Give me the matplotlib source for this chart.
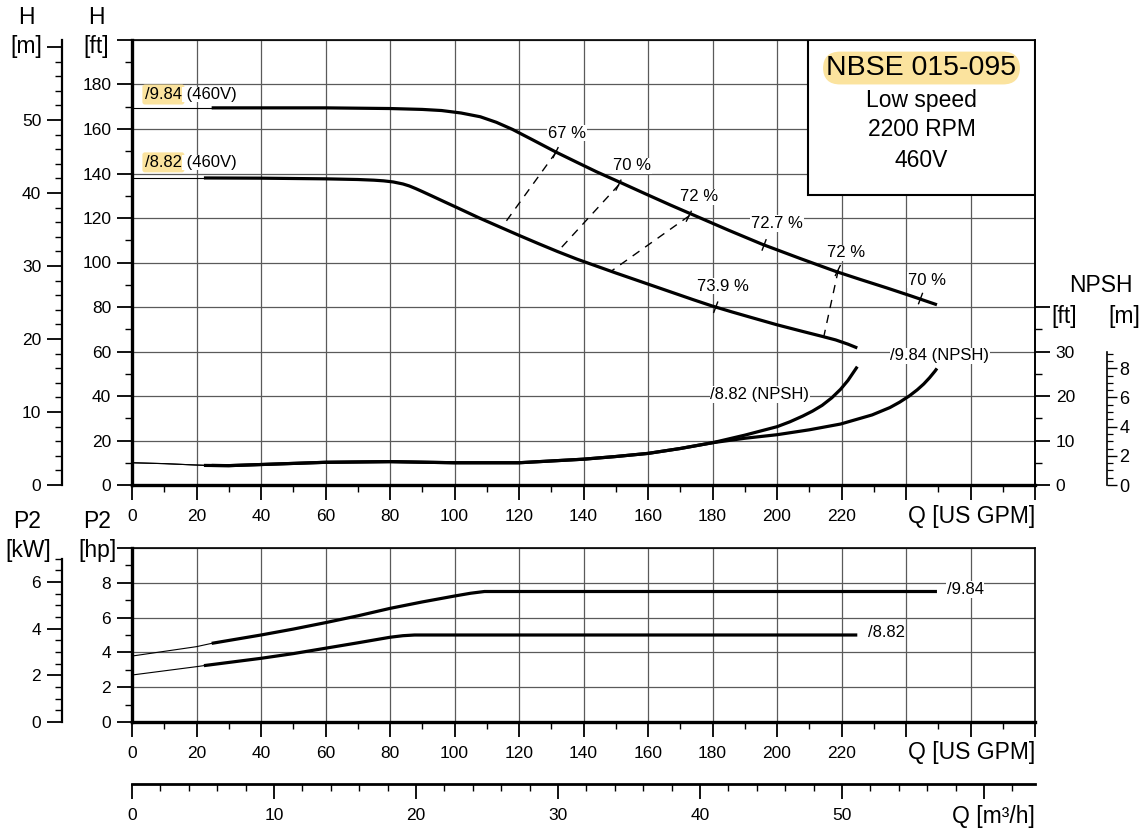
"""Charakterystyka pompy NBSE 015-095 (low speed, 2200 RPM, 460V)."""

import numpy as np
import matplotlib
matplotlib.use("Agg")
import matplotlib.pyplot as plt
from matplotlib.patches import Rectangle
from matplotlib.ticker import MultipleLocator, FuncFormatter

plt.rcParams["font.family"] = ["Liberation Sans", "DejaVu Sans"]

YELLOW = "#FBE39E"
GRID = "#5a5a5a"

# --- dane (Q w US GPM) ---
# H [ft], wirnik /9.84
Q_984 = [0, 24.7, 40, 60, 80, 90, 96, 102, 108, 113, 118, 124, 131.5, 138,
         144, 152, 159.3, 167, 174.8, 185, 195.4, 207, 218.2, 226, 234,
         241.5, 249.6]
H_984 = [169.5, 169.5, 169.5, 169.5, 169.2, 168.8, 168.3, 167.2, 165.5, 163.0,
         159.8, 155.3, 149.6, 145.0, 140.8, 135.6, 130.8, 125.8, 120.9, 114.5,
         108.2, 101.9, 96.0, 92.3, 88.6, 85.0, 81.0]
# H [ft], wirnik /8.82
Q_882 = [0, 22.3, 40, 60, 70, 75, 78, 81, 84, 86, 88, 90, 93, 97, 100, 104,
         107.7, 114, 120, 126, 132, 138, 144, 150, 156, 162, 168, 174, 180,
         186, 192, 200, 208, 214, 218.2, 222, 224.9]
H_882 = [138.0, 138.0, 137.9, 137.6, 137.3, 137.0, 136.7, 136.2, 135.3, 134.4,
         133.2, 131.9, 129.9, 127.2, 125.2, 122.5, 120.0, 116.0, 112.2, 108.5,
         104.9, 101.5, 98.4, 95.3, 92.3, 89.3, 86.3, 83.3, 80.4, 77.8, 75.3,
         72.0, 69.0, 66.8, 65.2, 63.3, 61.6]
Q_START_984 = 24.7
Q_START_882 = 22.3

# NPSH [ft]
NQ_984 = [0, 10, 19.5, 24.7, 30, 40, 60, 80, 100, 120, 130, 140, 150, 160, 170,
          180, 190, 200, 210, 219.7, 229.5, 235, 238, 241, 243.5, 245.5, 247.3,
          249, 249.6]
NPSH_984 = [5.0, 4.8, 4.5, 4.4, 4.35, 4.6, 5.1, 5.25, 5.0, 5.0, 5.4, 5.8, 6.4,
            7.1, 8.2, 9.5, 10.5, 11.3, 12.4, 13.7, 15.75, 17.4, 18.6, 20.0,
            21.4, 22.7, 24.1, 25.6, 26.2]
NQ_882 = [0, 10, 19.5, 22.3, 30, 40, 60, 80, 100, 120, 130, 140, 150, 160, 170,
          180, 190, 200, 204, 208, 211, 214, 217, 219.7, 222, 224.9]
NPSH_882 = [5.0, 4.8, 4.5, 4.4, 4.35, 4.6, 5.1, 5.25, 5.0, 5.0, 5.4, 5.8, 6.4,
            7.1, 8.2, 9.5, 11.2, 13.1, 14.2, 15.5, 16.6, 17.9, 19.6, 21.5,
            23.5, 26.6]

# P2 [hp]
PQ_984 = [0, 20, 24.7, 40, 50, 60, 70, 80, 90, 100, 105, 109.3, 249.6]
P2_984 = [3.79, 4.33, 4.52, 5.0, 5.34, 5.71, 6.1, 6.53, 6.9, 7.24, 7.4, 7.5,
          7.5]
PQ_882 = [0, 20, 22.3, 40, 50, 60, 70, 80, 84, 87.6, 224.9]
P2_882 = [2.70, 3.18, 3.24, 3.66, 3.93, 4.24, 4.55, 4.87, 4.96, 5.0, 5.0]

# linie sprawności (Q, H) - górny i dolny koniec linii przerywanej
EFF_TOP_Q = [131.5, 151.0, 172.8, 219.0]
EFF_TOP_H = [149.6, 135.0, 121.0, 96.6]
EFF_BOT_Q = [115.0, 132.0, 148.5, 214.5]
EFF_BOT_H = [116.5, 104.9, 96.0, 66.6]
EFF_TICK_Q = [196.0, 181.0, 244.5]
EFF_TICK_H = [107.9, 79.9, 83.8]
EFF_LABELS = ["67 %", "70 %", "72 %", "72.7 %", "73.9 %", "72 %", "70 %"]
EFF_LABEL_Q = [134.8, 155.0, 175.8, 200.0, 183.2, 221.3, 246.4]
EFF_LABEL_H = [158.2, 143.4, 129.5, 117.4, 89.4, 104.3, 92.1]

FT_TO_M = 0.3048
HP_TO_KW = 0.7457
GPM_TO_M3H = 0.22712

W_PX, H_PX = 1147, 834


def fx(x):
    return x / W_PX


def fy(y):
    return 1 - y / H_PX


def upto(vmax):
    return FuncFormatter(lambda v, _: f"{v:g}" if v <= vmax + 1e-9 else "")


def style_ticks(a, axis):
    a.tick_params(axis=axis, which="major", length=11, width=1.3,
                  labelsize=12.5, direction="out", pad=4)
    a.tick_params(axis=axis, which="minor", length=5, width=1.0,
                  direction="out")


def curve(a, q, v, q_start):
    q = np.asarray(q, dtype=float)
    v = np.asarray(v, dtype=float)
    thin = q <= q_start
    thick = q >= q_start
    a.plot(q[thin], v[thin], color="black", lw=0.8, zorder=3)
    a.plot(q[thick], v[thick], color="black", lw=2.3, zorder=3,
           solid_capstyle="butt", solid_joinstyle="round")


fig = plt.figure(figsize=(11.47, 8.34), dpi=100)
L, R = 132, 1035
AX_W = fx(R - L)

# ---------------- wykres H / NPSH ----------------
ax = fig.add_axes([fx(L), fy(485), AX_W, (485 - 40) / H_PX])
ax.set_xlim(0, 280)
ax.set_ylim(0, 200)
ax.xaxis.set_major_locator(MultipleLocator(20))
ax.xaxis.set_minor_locator(MultipleLocator(10))
ax.xaxis.set_major_formatter(upto(220))
ax.yaxis.set_major_locator(MultipleLocator(20))
ax.yaxis.set_minor_locator(MultipleLocator(10))
ax.yaxis.set_major_formatter(upto(180))
style_ticks(ax, "both")
ax.tick_params(axis="x", pad=6)
ax.grid(which="major", color=GRID, lw=0.9)
ax.set_axisbelow(True)
for s in ("left", "bottom"):
    ax.spines[s].set_linewidth(2.4)
for s in ("top", "right"):
    ax.spines[s].set_linewidth(1.2)

curve(ax, Q_984, H_984, Q_START_984)
curve(ax, Q_882, H_882, Q_START_882)

for q1, h1, q2, h2 in zip(EFF_TOP_Q, EFF_TOP_H, EFF_BOT_Q, EFF_BOT_H):
    ax.plot([q1, q2], [h1, h2], color="black", lw=1.0, ls=(0, (6, 5)),
            zorder=3)
    ax.plot([q1 - 0.9, q1 + 0.6], [h1 - 2.4, h1 + 2.0], color="black",
            lw=1.0, zorder=3)
for q, h in zip(EFF_TICK_Q, EFF_TICK_H):
    ax.plot([q - 0.6, q + 0.6], [h - 2.3, h + 2.3], color="black", lw=1.0,
            zorder=3)
for txt, q, h in zip(EFF_LABELS, EFF_LABEL_Q, EFF_LABEL_H):
    ax.text(q, h, txt, ha="center", va="center", fontsize=12, zorder=4,
            bbox=dict(fc="white", ec="none", pad=0.6))

t1 = ax.text(4.0, 175.5, "/9.84", fontsize=12, va="center", zorder=4,
             bbox=dict(boxstyle="round,pad=0.15", fc=YELLOW, ec="none"))
ax.annotate(" (460V)", xy=(1, 0.5), xycoords=t1, va="center", fontsize=12,
            zorder=4, bbox=dict(fc="white", ec="none", pad=0.3))
t2 = ax.text(4.0, 145.0, "/8.82", fontsize=12, va="center", zorder=4,
             bbox=dict(boxstyle="round,pad=0.15", fc=YELLOW, ec="none"))
ax.annotate(" (460V)", xy=(1, 0.5), xycoords=t2, va="center", fontsize=12,
            zorder=4, bbox=dict(fc="white", ec="none", pad=0.3))

# ramka z tytułem
ax.add_patch(Rectangle((0.7486, 0.6517), 0.2514, 0.3483,
                       transform=ax.transAxes, fc="white", ec="black",
                       lw=1.5, zorder=5))
ax.text(0.8743, 0.937, "NBSE 015-095", transform=ax.transAxes, ha="center",
        va="center", fontsize=20.5, zorder=6,
        bbox=dict(boxstyle="round,pad=0.12,rounding_size=0.6", fc=YELLOW,
                  ec="none"))
for txt, yy in zip(["Low speed", "2200 RPM", "460V"], [0.865, 0.798, 0.730]):
    ax.text(0.8743, yy, txt, transform=ax.transAxes, ha="center",
            va="center", fontsize=16.5, zorder=6)

# oś H [m] po lewej
ax_hm = ax.twinx()
ax_hm.set_ylim(0, 200 * FT_TO_M)
ax_hm.yaxis.set_ticks_position("left")
ax_hm.yaxis.set_label_position("left")
ax_hm.spines["left"].set_position(("axes", -0.0775))
ax_hm.spines["left"].set_linewidth(1.6)
for s in ("right", "top", "bottom"):
    ax_hm.spines[s].set_visible(False)
ax_hm.yaxis.set_major_locator(MultipleLocator(10))
ax_hm.yaxis.set_minor_locator(MultipleLocator(2))
ax_hm.yaxis.set_major_formatter(upto(50))
style_ticks(ax_hm, "y")

# NPSH [ft] na prawej krawędzi
ax_n = ax.twinx()
ax_n.set_ylim(0, 100)
for s in ("left", "top", "bottom"):
    ax_n.spines[s].set_visible(False)
ax_n.spines["right"].set_linewidth(1.2)
ax_n.set_yticks([0, 10, 20, 30, 40])
ax_n.set_yticks([5, 15, 25, 35], minor=True)
ax_n.yaxis.set_major_formatter(upto(30))
style_ticks(ax_n, "y")
curve(ax_n, NQ_984, NPSH_984, Q_START_984)
curve(ax_n, NQ_882, NPSH_882, Q_START_882)
ax_n.text(250.5, 29.0, "/9.84 (NPSH)", ha="center", va="center",
          fontsize=12, bbox=dict(fc="white", ec="none", pad=0.6))
ax_n.text(194.7, 20.3, "/8.82 (NPSH)", ha="center", va="center",
          fontsize=12, bbox=dict(fc="white", ec="none", pad=0.6))

# NPSH [m]
ax_nm = ax.twinx()
ax_nm.set_ylim(0, 100 * FT_TO_M)
for s in ("left", "top", "bottom"):
    ax_nm.spines[s].set_visible(False)
ax_nm.spines["right"].set_position(("axes", 1.0797))
ax_nm.spines["right"].set_bounds(0, 30 * FT_TO_M)
ax_nm.spines["right"].set_linewidth(1.2)
ax_nm.set_yticks([0, 2, 4, 6, 8])
ax_nm.set_yticks(np.arange(0.5, 9.01, 0.5), minor=True)
ax_nm.tick_params(axis="y", which="major", length=7, width=1.0,
                  labelsize=13, pad=2)
ax_nm.tick_params(axis="y", which="minor", length=4.5, width=0.9)

# ---------------- wykres P2 ----------------
ax2 = fig.add_axes([fx(L), fy(722), AX_W, (722 - 548) / H_PX])
ax2.set_xlim(0, 280)
ax2.set_ylim(0, 10)
ax2.xaxis.set_major_locator(MultipleLocator(20))
ax2.xaxis.set_minor_locator(MultipleLocator(10))
ax2.xaxis.set_major_formatter(upto(220))
ax2.yaxis.set_major_locator(MultipleLocator(2))
ax2.yaxis.set_minor_locator(MultipleLocator(1))
ax2.yaxis.set_major_formatter(upto(8))
style_ticks(ax2, "both")
ax2.tick_params(axis="x", pad=6)
ax2.grid(which="major", color=GRID, lw=0.9)
ax2.set_axisbelow(True)
for s in ("left", "bottom"):
    ax2.spines[s].set_linewidth(2.4)
for s in ("top", "right"):
    ax2.spines[s].set_linewidth(1.2)
curve(ax2, PQ_984, P2_984, Q_START_984)
curve(ax2, PQ_882, P2_882, Q_START_882)
ax2.text(252.6, 7.6, "/9.84", ha="left", va="center", fontsize=12,
         bbox=dict(fc="white", ec="none", pad=0.6))
ax2.text(228.1, 5.12, "/8.82", ha="left", va="center", fontsize=12,
         bbox=dict(fc="white", ec="none", pad=0.6))

ax2_kw = ax2.twinx()
ax2_kw.set_ylim(0, 10 * HP_TO_KW)
ax2_kw.yaxis.set_ticks_position("left")
ax2_kw.spines["left"].set_position(("axes", -0.0775))
ax2_kw.spines["left"].set_bounds(0, 7)
ax2_kw.spines["left"].set_linewidth(1.6)
for s in ("right", "top", "bottom"):
    ax2_kw.spines[s].set_visible(False)
ax2_kw.set_yticks([0, 2, 4, 6])
ax2_kw.set_yticks(np.arange(0.5, 7.01, 0.5), minor=True)
style_ticks(ax2_kw, "y")

# ---------------- oś Q [m3/h] ----------------
ax3 = fig.add_axes([fx(L), fy(784), AX_W, 0.0001])
ax3.set_xlim(0, 280 * GPM_TO_M3H)
ax3.set_yticks([])
for s in ("left", "right", "top"):
    ax3.spines[s].set_visible(False)
ax3.spines["bottom"].set_linewidth(2.0)
ax3.patch.set_visible(False)
ax3.xaxis.set_major_locator(MultipleLocator(10))
ax3.xaxis.set_minor_locator(MultipleLocator(2))
ax3.xaxis.set_major_formatter(upto(50))
style_ticks(ax3, "x")
ax3.tick_params(axis="x", pad=6)

# ---------------- opisy osi ----------------
LBL = 16.5
for x, y, txt in [(26, 17, "H"), (26, 46, "[m]"), (96, 17, "H"),
                  (96, 46, "[ft]"), (27, 522, "P2"), (28, 551, "[kW]"),
                  (97, 522, "P2"), (98, 551, "[hp]"), (1101, 286, "NPSH"),
                  (1064, 316, "[ft]"), (1124, 316, "[m]")]:
    fig.text(fx(x), fy(y), txt, ha="center", va="center", fontsize=LBL)
for y, txt in [(517, "Q [US GPM]"), (752, "Q [US GPM]"),
               (817, "Q [m³/h]")]:
    fig.text(fx(1035), fy(y), txt, ha="right", va="center", fontsize=LBL)

fig.savefig("out.png", dpi=100)
